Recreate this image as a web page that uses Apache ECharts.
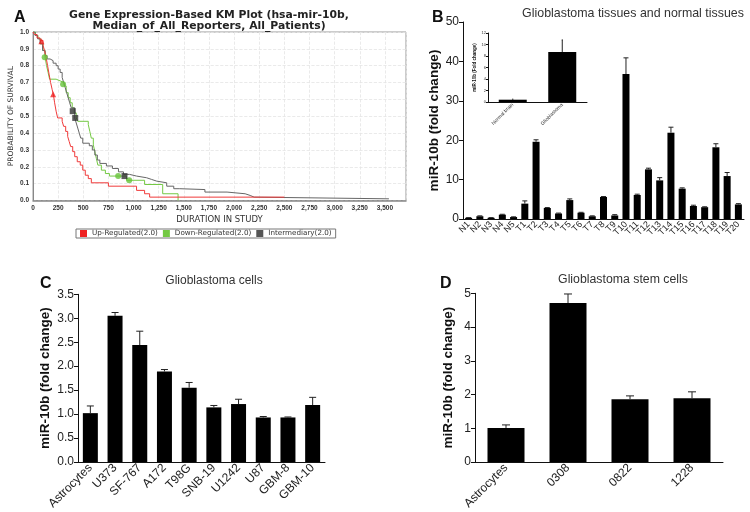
<!DOCTYPE html>
<html><head><meta charset="utf-8">
<script src="https://cdn.jsdelivr.net/npm/echarts@6/dist/echarts.min.js"></script>
<style>html,body{margin:0;padding:0;background:#fff}#c{width:750px;height:512px}</style>
</head><body><div id="c"></div>
<script>
// ---------- Panel A: KM curves (time, survival) ----------
const kmUp = [[0,1],[15,0.985],[40,0.965],[70,0.95],[100,0.92],[115,0.89],[130,0.85],[145,0.80],[160,0.75],[175,0.70],[190,0.66],[205,0.62],[215,0.58],[230,0.53],[245,0.49],[290,0.47],[305,0.44],[325,0.41],[345,0.38],[360,0.35],[375,0.32],[395,0.29],[415,0.26],[440,0.23],[470,0.21],[495,0.18],[520,0.15],[550,0.13],[580,0.105],[750,0.085],[1030,0.06],[1110,0.04],[1160,0.02],[2500,0.02]];
const kmDown = [[0,1],[25,0.98],[50,0.96],[75,0.93],[100,0.89],[120,0.85],[135,0.80],[150,0.76],[165,0.72],[230,0.71],[270,0.70],[310,0.68],[330,0.64],[350,0.61],[370,0.58],[390,0.55],[410,0.52],[430,0.49],[445,0.47],[550,0.45],[565,0.41],[580,0.37],[600,0.33],[615,0.29],[630,0.25],[645,0.21],[680,0.18],[720,0.16],[760,0.145],[930,0.12],[1110,0.095],[1290,0.04],[1443,0]];
const kmInter = [[0,1],[20,0.98],[45,0.96],[70,0.93],[95,0.89],[120,0.86],[140,0.84],[170,0.83],[200,0.815],[230,0.80],[250,0.78],[270,0.76],[290,0.73],[305,0.70],[320,0.67],[335,0.64],[350,0.61],[365,0.58],[380,0.55],[415,0.49],[430,0.46],[445,0.43],[460,0.40],[475,0.37],[495,0.34],[560,0.325],[590,0.30],[615,0.27],[640,0.24],[665,0.22],[730,0.205],[790,0.19],[850,0.17],[900,0.155],[960,0.145],[1030,0.135],[1130,0.125],[1180,0.115],[1230,0.105],[1330,0.085],[1400,0.07],[1460,0.065],[1710,0.05],[1930,0.04],[2110,0.03],[2160,0.02],[2200,0.01],[3540,0.01]];
const censorUp = [[84,0.945],[200,0.63]];
const censorDown = [[116,0.85],[299,0.69],[847,0.145],[957,0.12]];
const censorInter = [[395,0.53],[420,0.49],[910,0.145]];
const kmNames = ['Up-Regulated(2.0)','Down-Regulated(2.0)','Intermediary(2.0)'];

// ---------- Panel B ----------
const tissueCats = ['N1','N2','N3','N4','N5','T1','T2','T3','T4','T5','T6','T7','T8','T9','T10','T11','T12','T13','T14','T15','T16','T17','T18','T19','T20'];
const tissueVals = [0.3,0.7,0.3,1.1,0.5,3.9,19.6,2.8,1.4,4.8,1.6,0.7,5.6,0.9,36.8,6.1,12.6,9.8,21.9,7.7,3.3,3.0,18.2,10.9,3.7];
const tissueErr  = [0.35,0.8,0.35,1.2,0.55,4.6,20.1,2.9,1.5,5.1,1.7,0.8,5.7,1.1,40.9,6.3,12.9,10.5,23.3,7.9,3.5,3.1,19.1,11.8,3.9];
const insetCats = ['Normal brain','Glioblastoma'];
const insetVals = [0.4,8.7];
const insetErr  = [0.5,10.8];

// ---------- Panel C ----------
const cellCats = ['Astrocytes','U373','SF-767','A172','T98G','SNB-19','U1242','U87','GBM-8','GBM-10'];
const cellVals = [1.02,3.05,2.44,1.89,1.55,1.14,1.21,0.93,0.93,1.19];
const cellErr  = [1.17,3.12,2.73,1.93,1.66,1.18,1.31,0.95,0.94,1.35];

// ---------- Panel D ----------
const stemCats = ['Astrocytes','0308','0822','1228'];
const stemVals = [1.01,4.71,1.86,1.89];
const stemErr  = [1.10,4.98,1.96,2.08];

const AR = 'Liberation Sans, Arial, sans-serif';
const DV = 'DejaVu Sans, sans-serif';

function errRender(capHalf){
  return function(params, api){
    const x = api.value(0), v = api.value(1), e = api.value(2);
    const p0 = api.coord([x, v]); const p1 = api.coord([x, e]);
    return {type:'group', children:[
      {type:'line', shape:{x1:p0[0],y1:p0[1],x2:p1[0],y2:p1[1]}, style:{stroke:'#222', lineWidth:1}},
      {type:'line', shape:{x1:p1[0]-capHalf,y1:p1[1],x2:p1[0]+capHalf,y2:p1[1]}, style:{stroke:'#222', lineWidth:1}}
    ]};
  };
}
function errData(vals, errs){ return vals.map((v,i)=>[i, v, errs[i]]); }

function barX(idx, cats, fs, rot){
  return {type:'category', gridIndex:idx, data:cats, boundaryGap:true,
    axisLine:{lineStyle:{color:'#111', width:1}},
    axisTick:{alignWithLabel:true, length:3, lineStyle:{color:'#111'}},
    axisLabel:{rotate:rot, fontSize:fs, fontFamily:AR, color:'#222', margin:4, interval:0}};
}
function barY(idx, min, max, interval, fs, name, nameFs, gap, fmt){
  return {type:'value', gridIndex:idx, min:min, max:max, interval:interval,
    name:name, nameLocation:'middle', nameGap:gap,
    nameTextStyle:{fontSize:nameFs, fontFamily:AR, fontWeight:'bold', color:'#111'},
    axisLine:{show:true, lineStyle:{color:'#111', width:1}},
    axisTick:{show:true, length:4, lineStyle:{color:'#111'}},
    splitLine:{show:false},
    axisLabel:{fontSize:fs, fontFamily:AR, color:'#222', margin:4, formatter:fmt}};
}

const option = {
  animation:false,
  backgroundColor:'#fff',
  title:[
    {text:'A', left:9, top:5, textStyle:{fontSize:16, fontWeight:'bold', fontFamily:AR, color:'#111'}},
    {text:'Gene Expression-Based KM Plot (hsa-mir-10b,\nMedian_of_All_Reporters, All_Patients)', left:204, top:4, textAlign:'center',
      textStyle:{fontSize:10.8, fontWeight:'bold', fontFamily:DV, color:'#222', lineHeight:11.5, align:'center'}},
    {text:'B', left:427, top:5, textStyle:{fontSize:16, fontWeight:'bold', fontFamily:AR, color:'#111'}},
    {text:'Glioblastoma tissues and normal tissues', left:628, top:3, textAlign:'center', textStyle:{fontSize:12.4, fontWeight:'normal', fontFamily:AR, color:'#333'}},
    {text:'C', left:35, top:271, textStyle:{fontSize:16, fontWeight:'bold', fontFamily:AR, color:'#111'}},
    {text:'Glioblastoma cells', left:209, top:270, textAlign:'center', textStyle:{fontSize:12, fontWeight:'normal', fontFamily:AR, color:'#333'}},
    {text:'D', left:435, top:271, textStyle:{fontSize:16, fontWeight:'bold', fontFamily:AR, color:'#111'}},
    {text:'Glioblastoma stem cells', left:618, top:269, textAlign:'center', textStyle:{fontSize:12.3, fontWeight:'normal', fontFamily:AR, color:'#333'}}
  ],
  legend:{
    data:kmNames, left:76, top:229, icon:'rect', itemWidth:7, itemHeight:7, itemGap:5,
    padding:[1,4], borderColor:'#777', borderWidth:1, backgroundColor:'#fff',
    textStyle:{fontSize:7.2, fontFamily:DV, color:'#333'}
  },
  grid:[
    {left:33, top:32, width:373, height:168.5, show:true, borderColor:'#999', borderWidth:1, backgroundColor:'#fff'},
    {left:463, top:22, width:281, height:197},
    {left:488, top:33, width:99, height:69},
    {left:78, top:294.3, width:247, height:174},
    {left:475, top:293.3, width:248, height:174.4}
  ],
  xAxis:[
    {type:'value', gridIndex:0, min:0, max:3710, interval:250,
      name:'DURATION IN STUDY', nameLocation:'middle', nameGap:15,
      nameTextStyle:{fontSize:8.5, fontFamily:DV, color:'#333'},
      axisLine:{lineStyle:{color:'#888', width:1.5}}, axisTick:{show:false},
      splitLine:{show:true, lineStyle:{color:'#e4e4e4', type:'dashed', width:0.8}},
      axisLabel:{fontSize:6.5, fontWeight:'bold', fontFamily:AR, color:'#333', margin:4, showMaxLabel:false,
        formatter:v=>v.toLocaleString('en-US')}},
    barX(1, tissueCats, 9, 45),
    Object.assign(barX(2, insetCats, 5, 45), {axisLabel:{rotate:45, fontSize:5, fontFamily:AR, color:'#333', margin:2, interval:0}, axisTick:{show:false}}),
    barX(3, cellCats, 12, 45),
    barX(4, stemCats, 12, 45)
  ],
  yAxis:[
    {type:'value', gridIndex:0, min:0, max:1, interval:0.1,
      name:'PROBABILITY OF SURVIVAL', nameLocation:'middle', nameGap:18,
      nameTextStyle:{fontSize:7.5, fontFamily:DV, color:'#333'},
      axisLine:{show:true, lineStyle:{color:'#888', width:1}}, axisTick:{show:false},
      splitLine:{show:true, lineStyle:{color:'#e4e4e4', type:'dashed', width:0.8}},
      axisLabel:{fontSize:6.5, fontWeight:'bold', fontFamily:AR, color:'#333', margin:4, formatter:v=>v.toFixed(1)}},
    barY(1, 0, 50, 10, 12, 'miR-10b (fold change)', 13.5, 21),
    Object.assign(barY(2, 0, 12, 2, 4, 'miR-10b (Fold change)', 4.5, 7), {axisTick:{show:true, length:2}, axisLabel:{fontSize:4, fontFamily:AR, color:'#333', margin:2}}),
    barY(3, 0, 3.5, 0.5, 12, 'miR-10b (fold change)', 13.5, 26, v=>v.toFixed(1)),
    barY(4, 0, 5, 1, 12, 'miR-10b (fold change)', 13.5, 20)
  ],
  series:[
    {name:kmNames[1], type:'line', xAxisIndex:0, yAxisIndex:0, data:kmDown, step:'end', showSymbol:false, color:'#74c944', lineStyle:{width:1, color:'#74c944'}},
    {name:kmNames[2], type:'line', xAxisIndex:0, yAxisIndex:0, data:kmInter, step:'end', showSymbol:false, color:'#555', lineStyle:{width:1, color:'#666'}},
    {name:kmNames[0], type:'line', xAxisIndex:0, yAxisIndex:0, data:kmUp, step:'end', showSymbol:false, color:'#ee2222', lineStyle:{width:1, color:'#f03a3a'}},
    {type:'scatter', xAxisIndex:0, yAxisIndex:0, data:censorUp, symbol:'triangle', symbolSize:6, itemStyle:{color:'#ee2222'}, z:5},
    {type:'scatter', xAxisIndex:0, yAxisIndex:0, data:censorDown, symbol:'circle', symbolSize:6, itemStyle:{color:'#66c33a'}, z:5},
    {type:'scatter', xAxisIndex:0, yAxisIndex:0, data:censorInter, symbol:'rect', symbolSize:6, itemStyle:{color:'#333'}, z:5},

    {type:'bar', xAxisIndex:1, yAxisIndex:1, data:tissueVals, barWidth:7, itemStyle:{color:'#000'}},
    {type:'custom', xAxisIndex:1, yAxisIndex:1, data:errData(tissueVals, tissueErr), renderItem:errRender(2.5), z:3},
    {type:'bar', xAxisIndex:2, yAxisIndex:2, data:insetVals, barWidth:28, itemStyle:{color:'#000'}},
    {type:'custom', xAxisIndex:2, yAxisIndex:2, data:errData(insetVals, insetErr), renderItem:errRender(0.5), z:3},
    {type:'bar', xAxisIndex:3, yAxisIndex:3, data:cellVals, barWidth:15, itemStyle:{color:'#000'}},
    {type:'custom', xAxisIndex:3, yAxisIndex:3, data:errData(cellVals, cellErr), renderItem:errRender(3.5), z:3},
    {type:'bar', xAxisIndex:4, yAxisIndex:4, data:stemVals, barWidth:37, itemStyle:{color:'#000'}},
    {type:'custom', xAxisIndex:4, yAxisIndex:4, data:errData(stemVals, stemErr), renderItem:errRender(4), z:3}
  ]
};
const chart = echarts.init(document.getElementById('c'), null, {renderer:'canvas'});
chart.setOption(option);
</script></body></html>
